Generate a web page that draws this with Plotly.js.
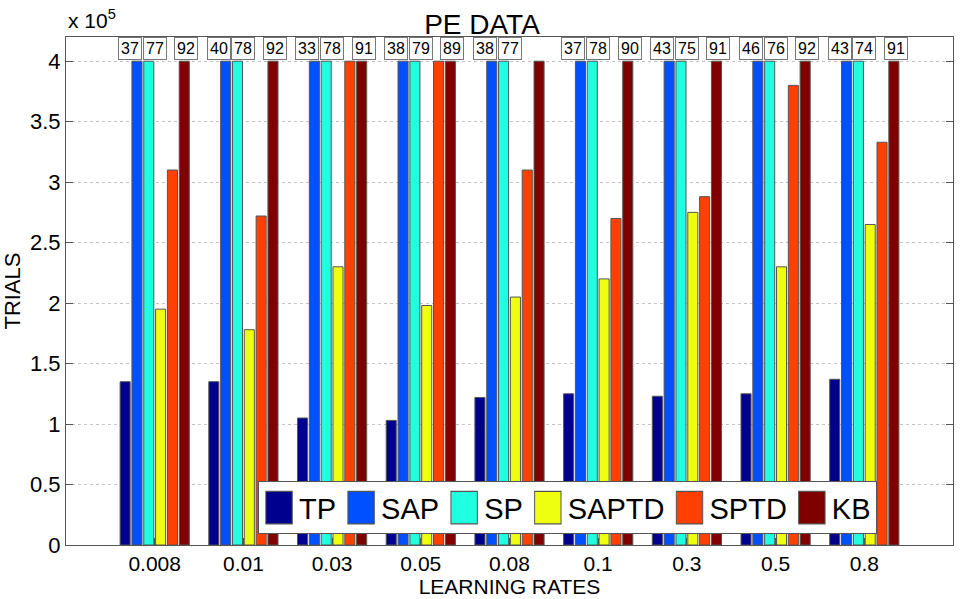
<!DOCTYPE html>
<html>
<head>
<meta charset="utf-8">
<script src="https://cdn.plot.ly/plotly-3.0.1.min.js"></script>
<style>
  html, body { margin: 0; padding: 0; background: #fff; }
  #myPlot { width: 964px; height: 599px; }
</style>
</head>
<body>
<div id="myPlot"></div>
<script>
// learning rates on the x axis
let rates = ['0.008', '0.01', '0.03', '0.05', '0.08', '0.1', '0.3', '0.5', '0.8'];

// trials per method (units of 1e5)
let tp    = [1.35, 1.35, 1.05, 1.03, 1.22, 1.25, 1.23, 1.25, 1.37];
let sap   = [4, 4, 4, 4, 4, 4, 4, 4, 4];
let sp    = [4, 4, 4, 4, 4, 4, 4, 4, 4];
let saptd = [1.95, 1.78, 2.30, 1.98, 2.05, 2.20, 2.75, 2.30, 2.65];
let sptd  = [3.10, 2.72, 4, 4, 3.10, 2.70, 2.88, 3.80, 3.33];
let kb    = [4, 4, 4, 4, 4, 4, 4, 4, 4];

// numbers in the boxes above the capped bars
let sapLabels = [37, 40, 33, 38, 38, 37, 43, 46, 43];
let spLabels  = [77, 78, 78, 79, 77, 78, 75, 76, 74];
let kbLabels  = [92, 92, 91, 89, null, 90, 91, 92, 91];

let names  = ['TP', 'SAP', 'SP', 'SAPTD', 'SPTD', 'KB'];
let colors = ['#00008f', '#0050ff', '#20ffdf', '#efff10', '#ff4000', '#800000'];

let yTicks = [0, 0.5, 1, 1.5, 2, 2.5, 3, 3.5, 4];

let series = [tp, sap, sp, saptd, sptd, kb];
let xs = rates.map(function(r, i) { return i + 1; });

var data = series.map(function(vals, k) {
  return {
    x: xs,
    y: vals.map(function(v) { return v * 1e5; }),
    name: names[k],
    type: 'bar',
    marker: { color: colors[k], line: { color: '#555', width: 1 } }
  };
});

// bar centre offset inside a group (6 bars, bargap 0.2)
function barCenter(i, k) {
  let slot = 0.8 / 6;
  return xs[i] - 0.4 + slot * (k + 0.5);
}

var font = 'Liberation Sans, Arial, sans-serif';

var annotations = [];
function addLabels(labels, k, shift) {
  labels.forEach(function(lab, i) {
    if (lab === null) return;
    annotations.push({
      x: barCenter(i, k), y: 4.107e5, xref: 'x', yref: 'y',
      text: String(lab), showarrow: false, xshift: shift,
      bgcolor: '#fff', bordercolor: '#777', borderwidth: 1, borderpad: 2,
      font: { family: font, size: 16, color: '#000' }
    });
  });
}
addLabels(sapLabels, 1, -7);
addLabels(spLabels, 2, 6);
addLabels(kbLabels, 5, 2);

annotations.push({
  x: 0, y: 1, xref: 'paper', yref: 'paper', xanchor: 'left', yanchor: 'bottom',
  yshift: 3, text: 'x 10<sup>5</sup>', showarrow: false,
  font: { family: font, size: 21, color: '#000' }
});

var layout = {
  width: 964, height: 599,
  margin: { l: 66, r: 11, t: 37, b: 54 },
  paper_bgcolor: '#fff', plot_bgcolor: '#fff',
  barmode: 'group', bargap: 0.2, bargroupgap: 0.15,
  font: { family: font, color: '#000' },
  title: {
    text: 'PE DATA', font: { family: font, size: 28, color: '#000' },
    x: 0.5, xanchor: 'center', y: 1, yref: 'paper', yanchor: 'bottom', pad: { b: 3 }
  },
  xaxis: {
    range: [0, 10], tickvals: xs, ticktext: rates,
    ticks: 'inside', ticklen: 7, tickcolor: '#555', mirror: 'ticks',
    showline: true, linecolor: '#555', linewidth: 1, showgrid: false, zeroline: false,
    tickfont: { family: font, size: 21, color: '#000' },
    title: { text: 'LEARNING RATES', standoff: 1, font: { family: font, size: 21, color: '#000' } }
  },
  yaxis: {
    range: [0, 4.2e5], tickvals: yTicks.map(function(v) { return v * 1e5; }),
    ticktext: yTicks.map(String),
    ticks: 'inside', ticklen: 7, tickcolor: '#555', mirror: 'ticks',
    showline: true, linecolor: '#555', linewidth: 1,
    showgrid: true, gridcolor: '#c4c4c4', griddash: 'dot', gridwidth: 1, zeroline: false,
    tickfont: { family: font, size: 22, color: '#000' },
    title: { text: 'TRIALS', standoff: 12, font: { family: font, size: 22, color: '#000' } }
  },
  legend: {
    orientation: 'h', x: 0.2165, y: 0.021, xanchor: 'left', yanchor: 'bottom',
    bgcolor: '#fff', bordercolor: '#555', borderwidth: 1,
    font: { family: font, size: 29, color: '#000' }, itemwidth: 30
  },
  annotations: annotations
};

Plotly.newPlot('myPlot', data, layout, { displayModeBar: false }).then(function(gd) {
  // the reference uses big legend swatches; enlarge the native ones
  gd.querySelectorAll('.legend .legendpoints path').forEach(function(p) {
    let t = p.getAttribute('transform') || '';
    p.setAttribute('transform', t + ' scale(2.2,2.7)');
    p.style.strokeWidth = '0.45px';
  });
});
</script>
</body>
</html>
